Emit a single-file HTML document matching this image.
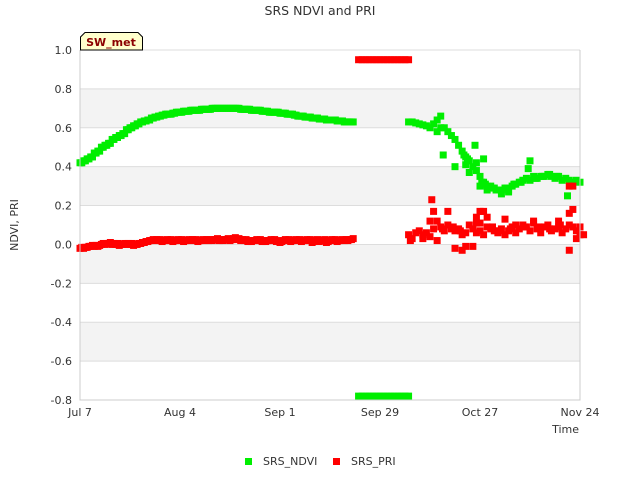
<!DOCTYPE html>
<html><head><meta charset="utf-8"><style>
body{margin:0;background:#fff;font-family:"Liberation Sans","DejaVu Sans",sans-serif}
svg text{font-family:"DejaVu Sans","Liberation Sans",sans-serif}
</style></head><body>
<svg id="c" width="640" height="480" xmlns="http://www.w3.org/2000/svg">
<text x="320" y="15" text-anchor="middle" font-size="12.5" fill="#333">SRS NDVI and PRI</text>
<g id="bands"></g><g id="grid"></g><g id="marks"></g><g id="axes"></g>
<text transform="translate(18,225) rotate(-90)" text-anchor="middle" font-size="11" fill="#333">NDVI, PRI</text>
<text x="579" y="433" text-anchor="end" font-size="11" fill="#333">Time</text>
<g>
<rect x="245" y="458" width="7" height="7" fill="#00ee00"/>
<text x="263" y="465" font-size="11" fill="#333">SRS_NDVI</text>
<rect x="333" y="458" width="7" height="7" fill="#ff0000"/>
<text x="351" y="465" font-size="11" fill="#333">SRS_PRI</text>
</g>
<g>
<path d="M80.5,50 L80.5,37 L85,32.5 L138,32.5 L142.5,37 L142.5,50 Z" fill="#ffffcc" stroke="#000" stroke-width="1"/>
<text x="111" y="46" text-anchor="middle" font-size="11" font-weight="bold" fill="#8b0000">SW_met</text>
</g>
</svg>
<script>
const yTicks=[1.0,0.8,0.6,0.4,0.2,0.0,-0.2,-0.4,-0.6,-0.8];
const yTickLabels=["1.0","0.8","0.6","0.4","0.2","0.0","-0.2","-0.4","-0.6","-0.8"];
const xTicks=[0,28,56,84,112,140];
const xTickLabels=["Jul 7","Aug 4","Sep 1","Sep 29","Oct 27","Nov 24"];
const ndviA=[.42,.43,.44,.45,.47,.48,.50,.51,.52,.54,.55,.56,.57,.59,.60,.61,.62,.63,.635,.64,.65,.655,.66,.665,.67,.67,.675,.68,.68,.685,.685,.69,.69,.69,.695,.695,.695,.70,.70,.70,.70,.70,.70,.70,.70,.695,.695,.695,.69,.69,.69,.685,.685,.68,.68,.68,.675,.675,.67,.67,.665,.66,.66,.655,.655,.65,.65,.645,.645,.64,.64,.64,.635,.635,.63,.63,.63];
const priA=[-.02,-.02,-.015,-.01,-.01,-.01,0,0,.005,0,0,-.005,0,0,0,-.005,0,.005,.01,.015,.02,.02,.02,.015,.02,.02,.015,.02,.02,.015,.02,.02,.02,.015,.02,.02,.02,.02,.025,.02,.02,.025,.02,.03,.025,.02,.02,.015,.015,.02,.02,.015,.015,.02,.02,.015,.01,.02,.02,.015,.02,.02,.015,.02,.02,.01,.02,.015,.02,.01,.02,.02,.015,.02,.02,.02,.025];
const flatDays=[78,79,80,81,82,83,84,85,86,87,88,89,90,91,92];
const priFlat=[.95,.95,.95,.95,.95,.95,.95,.95,.95,.95,.95,.95,.95,.95,.95];
const ndviFlat=[-.78,-.78,-.78,-.78,-.78,-.78,-.78,-.78,-.78,-.78,-.78,-.78,-.78,-.78,-.78];
const ndviB=[[92,.63],[93,.63],[94,.625],[95,.62],[96,.615],[97,.61],[98,.6],[99,.62],[100,.64],[101,.66],[102,.6],[103,.58],[104,.56],[105,.54],[106,.51],[107,.48],[108,.45],[109,.43],[110,.40],[111,.42],[112,.35],[113,.32],[114,.3],[115,.3],[116,.29],[117,.28],[118,.28],[119,.29],[120,.28],[121,.3],[122,.31],[123,.32],[124,.33],[125,.34],[126,.33],[127,.35],[128,.34],[129,.35],[130,.35],[131,.36],[132,.35],[133,.34],[134,.35],[135,.33],[136,.34],[137,.33],[138,.32],[139,.33],[140,.32],[101.7,.46],[110.6,.51],[108,.41],[109,.37],[111,.38],[112,.30],[113,.44],[114,.28],[105,.40],[126,.43],[136.5,.25],[125.5,.39],[118,.26],[120,.27],[131.5,.36],[101,.60],[100,.58],[112.5,.32],[113.5,.31],[115.5,.29],[116.5,.28],[119.5,.29],[121.5,.31],[123.5,.32],[127.5,.34],[129.5,.35],[133.5,.35],[107.5,.46],[108.5,.44]];
const priB=[[92,.05],[93,.03],[94,.06],[95,.07],[96,.05],[97,.06],[98,.04],[99,.08],[100,.12],[101,.09],[102,.07],[103,.1],[104,.08],[105,.07],[106,.08],[107,.05],[108,.06],[109,.1],[110,.08],[111,.06],[112,.07],[113,.05],[114,.09],[115,.08],[116,.07],[117,.06],[118,.08],[119,.05],[120,.07],[121,.09],[122,.06],[123,.08],[124,.1],[125,.09],[126,.07],[127,.11],[128,.08],[129,.06],[130,.09],[131,.1],[132,.07],[133,.08],[134,.09],[135,.06],[136,.08],[137,.1],[138,.09],[139,.07],[140,.05],[98.5,.23],[99,.17],[98,.12],[103,.17],[111,.14],[112,.17],[113,.17],[100,.02],[105,-.02],[107,-.03],[108,-.01],[111,.11],[112,.11],[114,.14],[96,.03],[119,.13],[122,.10],[127,.12],[134,.12],[137,.3],[138,.3],[137,.16],[138,.18],[137,-.03],[140,.09],[139,.03],[141,.05],[110,-.01],[92.5,.02],[101.5,.08],[104.5,.09],[106.5,.07],[115.5,.09],[117.5,.07],[120.5,.08],[124.5,.09],[128.5,.09],[131.5,.08],[134.5,.1]];
const NS="http://www.w3.org/2000/svg",X0=80,X1=580,Y0=50,Y1=400;
const xs=d=>X0+(d-0)/140*(X1-X0), ys=v=>Y0+(1-v)/1.8*(Y1-Y0);
function mk(t,a,p){const e=document.createElementNS(NS,t);for(const k in a)e.setAttribute(k,a[k]);p.appendChild(e);return e;}
const bands=document.getElementById('bands'),grid=document.getElementById('grid'),marks=document.getElementById('marks'),axes=document.getElementById('axes');
for(let i=0;i<yTicks.length-1;i++){if(i%2===1){const r=mk('rect',{x:X0,y:ys(yTicks[i]),width:X1-X0,height:ys(yTicks[i+1])-ys(yTicks[i]),fill:'#f3f3f3'},bands);

}}
yTicks.forEach((v,i)=>{const l=mk('line',{x1:X0,x2:X1,y1:ys(v),y2:ys(v),stroke:'#ddd'},grid);


const t=mk('text',{x:72,y:ys(v)+4,'text-anchor':'end','font-size':11,fill:'#333'},axes);t.textContent=yTickLabels[i];

});
xTicks.forEach((d,i)=>{const t=mk('text',{x:xs(d),y:416,'text-anchor':'middle','font-size':11,fill:'#333'},axes);t.textContent=xTickLabels[i];

});
const ax=mk('path',{d:`M${X0},${Y0}V${Y1}H${X1}V${Y0}`,fill:'none',stroke:'#ccc'},axes);


function pt(d,v,c,n){const r=mk('rect',{x:xs(d)-3.5,y:ys(v)-3.5,width:7,height:7,fill:c},marks);

}
ndviA.forEach((v,i)=>{pt(i,v,'#00ee00','ndvi-point');pt(i+0.5,v,'#00ee00','ndvi-point');});
priA.forEach((v,i)=>{pt(i,v,'#ff0000','pri-point');pt(i+0.5,v+0.005,'#ff0000','pri-point');});
flatDays.forEach((d,i)=>{pt(d,priFlat[i],'#ff0000','pri-point');pt(d,ndviFlat[i],'#00ee00','ndvi-point');});
ndviB.forEach(p=>pt(p[0],p[1],'#00ee00','ndvi-point'));
priB.forEach(p=>pt(p[0],p[1],'#ff0000','pri-point'));
</script>
</body></html>
